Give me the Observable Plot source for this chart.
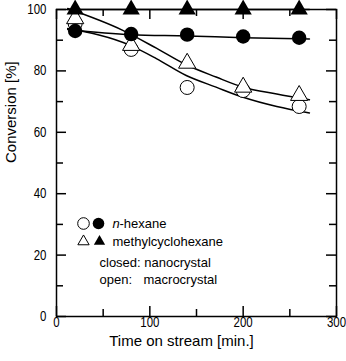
<!DOCTYPE html>
<html><head><meta charset="utf-8">
<script src="https://cdn.jsdelivr.net/npm/d3@7"></script>
<script src="https://cdn.jsdelivr.net/npm/@observablehq/plot@0.6"></script>
<style>
body{margin:0;background:#fff}
svg{font-family:"Liberation Sans",Arial,sans-serif}
</style>
</head><body><div id="chart"></div>
<script>
// measured points (time on stream, min)
const times = [20, 80, 140, 200, 260];
const hexaneNano  = [93.0, 92.0, 91.8, 91.2, 90.8];   // filled circles
const hexaneMacro = [95.4, 87.0, 74.6, 73.6, 68.4];   // open circles
const mchNano     = [100, 100, 100, 100, 100];        // filled triangles
const mchMacro    = [97.0, 88.3, 82.5, 74.7, 72.0];   // open triangles

// fitted curves
const fitMchMacroX = [12, 71, 107, 139, 171, 200, 236, 271];
const fitMchMacroY = [100.3, 93.2, 87.4, 82.0, 78.0, 74.7, 72.5, 70.6];
const fitHexMacroX = [12, 79, 107, 139, 171, 200, 236, 271];
const fitHexMacroY = [93.8, 88.3, 84.0, 78.5, 74.7, 71.4, 68.4, 66.3];
const fitHexNanoX  = [12, 80, 140, 200, 271];
const fitHexNanoY  = [93.5, 91.8, 91.4, 90.8, 90.4];
const fitMchNanoX  = [12, 271];
const fitMchNanoY  = [100, 100];

const xMajor = [0, 100, 200, 300];
const xMinor = [50, 150, 250];
const yMajor = [0, 20, 40, 60, 80, 100];
const yMinor = [10, 30, 50, 70, 90];

const xLabel = "Time on stream [min.]";
const yLabel = "Conversion [%]";

const pts = (xs, ys) => xs.map((x, i) => ({x, y: ys[i]}));

const W = 346, H = 361, ML = 56, MR = 10, MT = 9, MB = 45;
const FW = W - ML - MR, FH = H - MT - MB;
const majorLen = 10, minorLen = 7;
const tickStyle = {stroke: "#000", strokeWidth: 1.5};

const chart = Plot.plot({
  width: W, height: H,
  marginLeft: ML, marginRight: MR, marginTop: MT, marginBottom: MB,
  x: {domain: [0, 300], label: null},
  y: {domain: [0, 100], label: null},
  style: {background: "#fff", color: "#000"},
  marks: [
    // tick labels
    Plot.axisX({ticks: xMajor, tickSize: 0, tickPadding: 1, fontSize: 14}),
    Plot.axisY({ticks: yMajor, tickSize: 0, tickPadding: 10, fontSize: 14}),
    // inward ticks (bottom/top/left/right)
    Plot.tickX(xMajor, {x: d => d, insetTop: FH - majorLen, ...tickStyle}),
    Plot.tickX(xMinor, {x: d => d, insetTop: FH - minorLen, ...tickStyle}),
    Plot.tickX(xMajor, {x: d => d, insetBottom: FH - majorLen, ...tickStyle}),
    Plot.tickX(xMinor, {x: d => d, insetBottom: FH - minorLen, ...tickStyle}),
    Plot.tickY(yMajor, {y: d => d, insetRight: FW - majorLen, ...tickStyle}),
    Plot.tickY(yMinor, {y: d => d, insetRight: FW - minorLen, ...tickStyle}),
    Plot.tickY(yMajor, {y: d => d, insetLeft: FW - majorLen, ...tickStyle}),
    Plot.tickY(yMinor, {y: d => d, insetLeft: FW - minorLen, ...tickStyle}),
    Plot.frame({stroke: "#000", strokeWidth: 1.5}),
    // fitted lines
    Plot.line(pts(fitMchMacroX, fitMchMacroY), {x: "x", y: "y", curve: "monotone-x", stroke: "#000", strokeWidth: 1.5}),
    Plot.line(pts(fitHexMacroX, fitHexMacroY), {x: "x", y: "y", curve: "monotone-x", stroke: "#000", strokeWidth: 1.5}),
    Plot.line(pts(fitHexNanoX, fitHexNanoY), {x: "x", y: "y", curve: "monotone-x", stroke: "#000", strokeWidth: 1.5}),
    Plot.line(pts(fitMchNanoX, fitMchNanoY), {x: "x", y: "y", stroke: "#000", strokeWidth: 1.5}),
    // markers
    Plot.dot(pts(times, hexaneMacro), {x: "x", y: "y", r: 7, fill: "#fff", stroke: "#000", strokeWidth: 1}),
    Plot.dot(pts(times, mchMacro), {x: "x", y: "y", r: 6.4, symbol: "triangle", fill: "#fff", stroke: "#000", strokeWidth: 1}),
    Plot.dot(pts(times, hexaneNano), {x: "x", y: "y", r: 7.2, fill: "#000", stroke: "none"}),
    Plot.dot(pts(times, mchNano), {x: "x", y: "y", r: 6.4, symbol: "triangle", fill: "#000", stroke: "none"}),
    // legend (offsets from the frame's top-left corner)
    Plot.dot([0], {frameAnchor: "top-left", dx: 27, dy: 214, r: 5.8, fill: "#fff", stroke: "#000", strokeWidth: 1}),
    Plot.dot([0], {frameAnchor: "top-left", dx: 42, dy: 214, r: 5.8, fill: "#000", stroke: "none"}),
    Plot.dot([0], {frameAnchor: "top-left", dx: 27, dy: 232, r: 4.2, symbol: "triangle", fill: "#fff", stroke: "#000", strokeWidth: 1}),
    Plot.dot([0], {frameAnchor: "top-left", dx: 43, dy: 232, r: 4.2, symbol: "triangle", fill: "#000", stroke: "none"}),
    Plot.text(["n"], {frameAnchor: "top-left", dx: 56, dy: 218, textAnchor: "start", lineAnchor: "bottom", fontSize: 13, fontStyle: "italic"}),
    Plot.text(["-hexane"], {frameAnchor: "top-left", dx: 63, dy: 218, textAnchor: "start", lineAnchor: "bottom", fontSize: 13}),
    Plot.text(["methylcyclohexane"], {frameAnchor: "top-left", dx: 56, dy: 236, textAnchor: "start", lineAnchor: "bottom", fontSize: 13}),
    Plot.text(["closed: nanocrystal"], {frameAnchor: "top-left", dx: 43, dy: 257, textAnchor: "start", lineAnchor: "bottom", fontSize: 13}),
    Plot.text(["open:"], {frameAnchor: "top-left", dx: 43, dy: 274, textAnchor: "start", lineAnchor: "bottom", fontSize: 13}),
    Plot.text(["macrocrystal"], {frameAnchor: "top-left", dx: 87, dy: 274, textAnchor: "start", lineAnchor: "bottom", fontSize: 13}),
    // axis titles
    Plot.text([xLabel], {frameAnchor: "bottom", dx: -15, dy: 29, lineAnchor: "bottom", fontSize: 15}),
    Plot.text([yLabel], {frameAnchor: "left", dx: -41, rotate: -90, lineAnchor: "bottom", fontSize: 15})
  ]
});
// tick labels in the reference are condensed: squeeze them horizontally
d3.select(chart).selectAll("g[aria-label='x-axis tick label'] text, g[aria-label='y-axis tick label'] text")
  .each(function () {
    const t = this.getAttribute("transform") || "";
    this.setAttribute("transform", t + " scale(0.82,1)");
  });
document.getElementById("chart").appendChild(chart);
</script>
</body></html>
